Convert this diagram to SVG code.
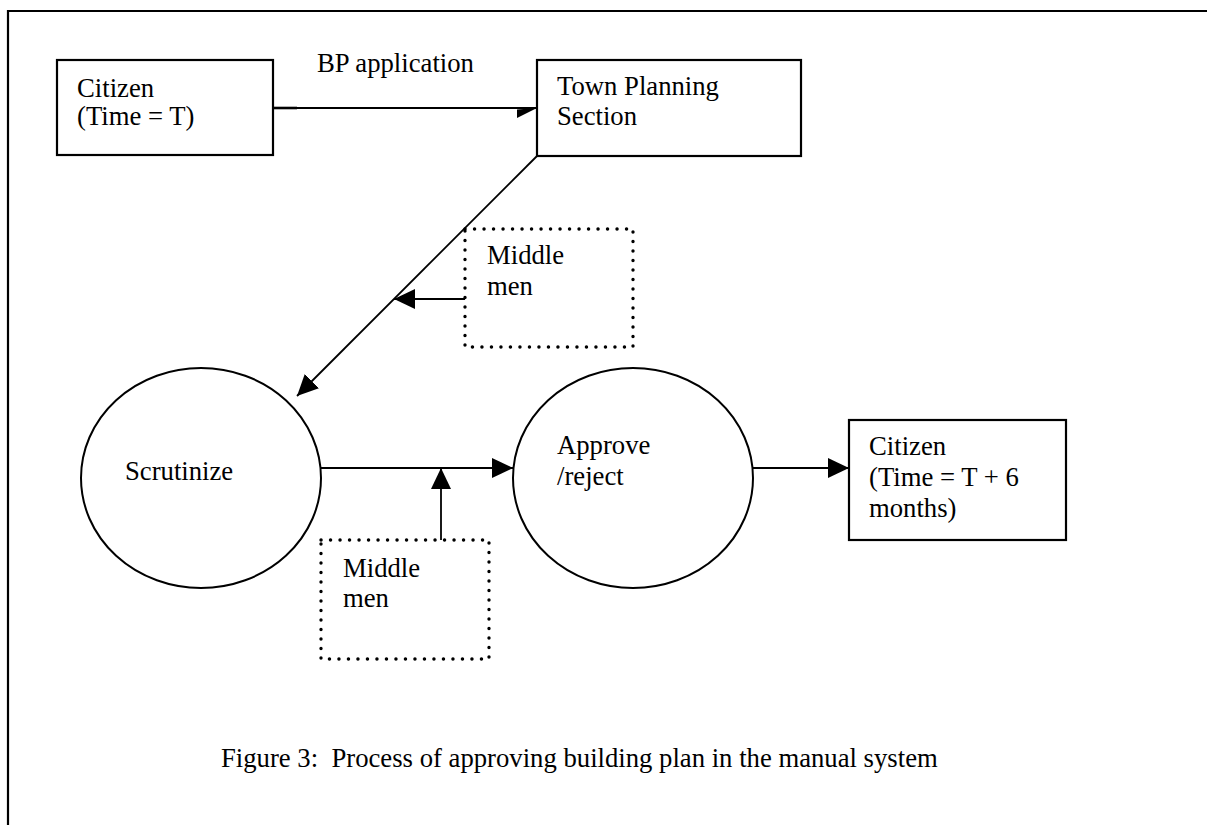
<svg xmlns="http://www.w3.org/2000/svg" width="1207" height="825" viewBox="0 0 1207 825">
  <style>
    text { font-family: "Liberation Serif", "Times New Roman", serif; font-size: 26.7px; fill: #000; }
    .box { fill: #fff; stroke: #000; stroke-width: 2.2; }
    .oval { fill: #fff; stroke: #000; stroke-width: 2; }
    .dotted { fill: none; stroke: #000; stroke-width: 3.4; stroke-linecap: round; stroke-dasharray: 0.1 9.4; }
    .wire { fill: none; stroke: #000; stroke-width: 1.8; }
  </style>
  <defs>
    <marker id="head" markerUnits="userSpaceOnUse" markerWidth="22" markerHeight="22" refX="21" refY="10" orient="auto">
      <path d="M0,0 L21,10 L0,20 Z" fill="#000"/>
    </marker>
  </defs>

  <rect width="1207" height="825" fill="#fff"/>

  <!-- page frame -->
  <path d="M8,825 V11 H1207" fill="none" stroke="#000" stroke-width="2.2"/>

  <g id="citizen-start">
    <rect class="box" x="57" y="60" width="216" height="95"/>
    <text x="77" y="97">Citizen</text>
    <text x="77" y="125">(Time = T)</text>
  </g>

  <g id="town-planning">
    <rect class="box" x="537" y="60" width="264" height="96"/>
    <text x="557" y="95">Town Planning</text>
    <text x="557" y="125">Section</text>
  </g>

  <g id="middlemen-top">
    <rect class="dotted" x="465" y="229" width="168" height="118"/>
    <text x="487" y="264">Middle</text>
    <text x="487" y="295">men</text>
  </g>

  <g id="scrutinize">
    <ellipse class="oval" cx="201" cy="478" rx="120" ry="110"/>
    <text x="125" y="480">Scrutinize</text>
  </g>

  <g id="approve-reject">
    <ellipse class="oval" cx="633" cy="478" rx="120" ry="110"/>
    <text x="557" y="454">Approve</text>
    <text x="557" y="485">/reject</text>
  </g>

  <g id="middlemen-bottom">
    <rect class="dotted" x="321" y="540" width="168" height="119"/>
    <text x="343" y="577">Middle</text>
    <text x="343" y="607">men</text>
  </g>

  <g id="citizen-end">
    <rect class="box" x="849" y="420" width="217" height="120"/>
    <text x="869" y="455">Citizen</text>
    <text x="869" y="486">(Time = T + 6</text>
    <text x="869" y="517">months)</text>
  </g>

  <g id="connectors">
    <!-- BP application: citizen to town planning -->
    <line class="wire" x1="273" y1="108" x2="537" y2="108"/>
    <line x1="273" y1="108" x2="297" y2="108" stroke="#000" stroke-width="2.6"/>
    <polygon points="517,109.5 537,108 517,118" fill="#000"/>
    <text x="317" y="72">BP application</text>

    <!-- town planning down to scrutinize -->
    <line class="wire" x1="537" y1="156" x2="297" y2="396" marker-end="url(#head)"/>

    <!-- middle men pushing into the diagonal -->
    <line class="wire" x1="465" y1="299" x2="394" y2="299" marker-end="url(#head)"/>

    <!-- scrutinize to approve/reject -->
    <line class="wire" x1="321" y1="468" x2="513" y2="468" marker-end="url(#head)"/>

    <!-- middle men pushing up into the horizontal flow -->
    <line class="wire" x1="441" y1="540" x2="441" y2="468" marker-end="url(#head)"/>

    <!-- approve/reject to citizen -->
    <line class="wire" x1="753" y1="468" x2="849" y2="468" marker-end="url(#head)"/>
  </g>

  <text x="221" y="767" xml:space="preserve">Figure 3:  Process of approving building plan in the manual system</text>
</svg>
